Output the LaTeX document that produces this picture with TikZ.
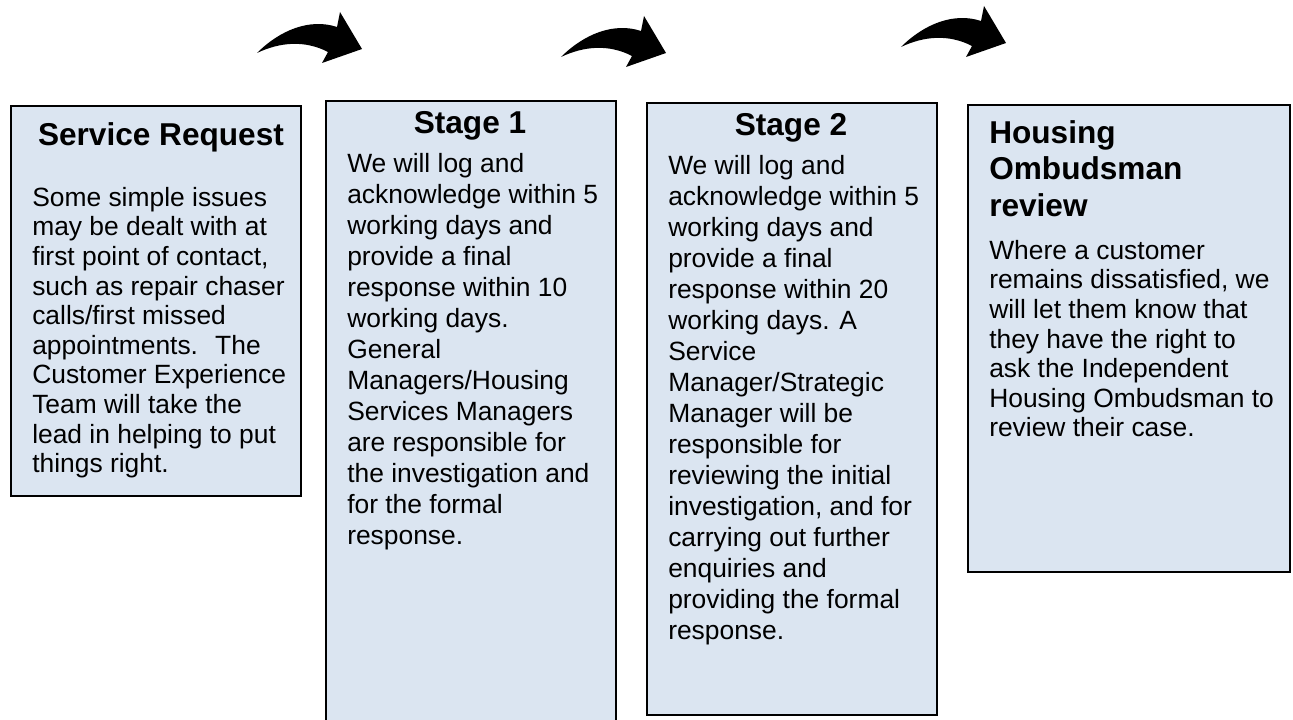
\documentclass[tikz,border=0pt]{standalone}
\usepackage{fontspec}
\setmainfont{Liberation Sans}
\definecolor{boxfill}{HTML}{DBE5F1}
\newcommand{\firststrut}{\rule{0pt}{18pt}}
\begin{document}
\begin{tikzpicture}[x=0.75pt,y=-0.75pt,
  box/.style={draw=black,line width=1.5pt,fill=boxfill,anchor=north west,inner sep=0pt},
  body/.style={anchor=north west,inner sep=0pt,align=left,font=\fontsize{19.8}{22.2}\selectfont},
  bodywide/.style={anchor=north west,inner sep=0pt,align=left,font=\fontsize{19.8}{23.25}\selectfont},
  ttl/.style={anchor=base,inner sep=0pt,font=\bfseries\fontsize{23.7}{27.3}\selectfont},
  ttlleft/.style={anchor=north west,inner sep=0pt,align=left,font=\bfseries\fontsize{23.7}{27.3}\selectfont},
  bentarrow/.pic={\fill[black] (0,0) .. controls (23,-23) and (53,-35) .. (80,-26) -- (83,-41) -- (105,-4) -- (65,10) -- (71,-1) .. controls (48,-13) and (23,-11) .. cycle;}
]
\useasboundingbox (0,0) rectangle (1293,720);
% arrows
\pic (a1) at (257,53) {bentarrow};
\pic (a2) at (561,57) {bentarrow};
\pic (a3) at (901,47) {bentarrow};
% boxes
\node[box,minimum width=217.5pt,minimum height=292.5pt] (b1) at (10,105) {};
\node[box,minimum width=217.5pt,minimum height=472.5pt] (b2) at (325,100) {};
\node[box,minimum width=217.5pt,minimum height=459pt] (b3) at (646,102) {};
\node[box,minimum width=241.5pt,minimum height=350.25pt] (b4) at (967,104) {};
% titles
\node[ttl] (t1) at (161,146) {Service Request};
\node[ttl] (t2) at (470,134) {Stage 1};
\node[ttl] (t3) at (791,136) {Stage 2};
\node[ttlleft] (t4) at (989,119) {\firststrut Housing\\Ombudsman\\review};
% bodies
\node[body] (p1) at (32,182) {\firststrut Some simple issues\\may be dealt with at\\first point of contact,\\such as repair chaser\\calls/first missed\\appointments. \ The\\Customer Experience\\Team will take the\\lead in helping to put\\things right.};
\node[bodywide] (p2) at (347,148) {\firststrut We will log and\\acknowledge within 5\\working days and\\provide a final\\response within 10\\working days.\\General\\Managers/Housing\\Services Managers\\are responsible for\\the investigation and\\for the formal\\response.};
\node[bodywide] (p3) at (668,150) {\firststrut We will log and\\acknowledge within 5\\working days and\\provide a final\\response within 20\\working days. A\\Service\\Manager/Strategic\\Manager will be\\responsible for\\reviewing the initial\\investigation, and for\\carrying out further\\enquiries and\\providing the formal\\response.};
\node[body] (p4) at (989,235) {\firststrut Where a customer\\remains dissatisfied, we\\will let them know that\\they have the right to\\ask the Independent\\Housing Ombudsman to\\review their case.};
\end{tikzpicture}
\end{document}
